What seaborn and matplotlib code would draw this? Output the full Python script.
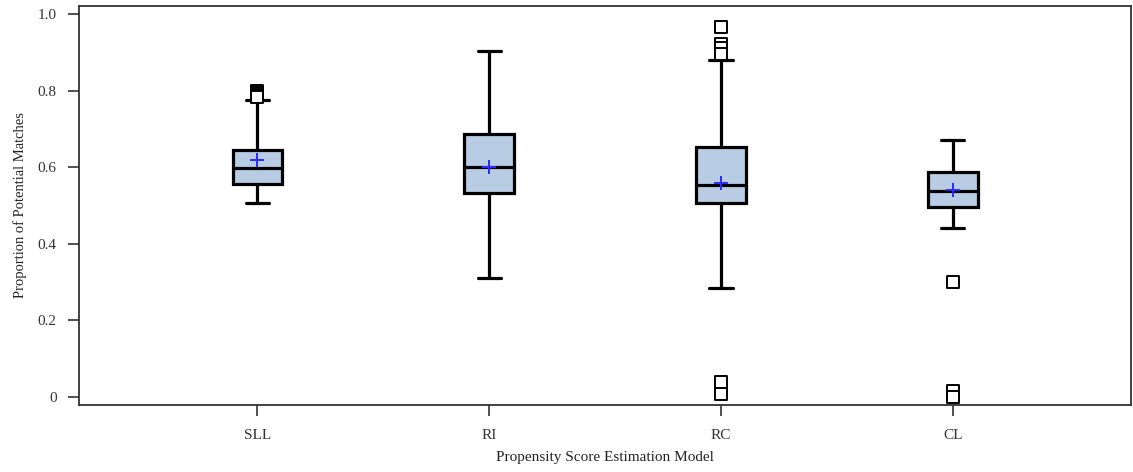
import matplotlib
matplotlib.use("Agg")
import matplotlib.pyplot as plt
import seaborn as sns
import pandas as pd

# Summary statistics for each propensity score estimation model
models = ["SLL", "RI", "RC", "CL"]
whisker_low = [0.506, 0.311, 0.285, 0.441]
q1 = [0.556, 0.533, 0.507, 0.496]
median = [0.598, 0.600, 0.553, 0.538]
q3 = [0.645, 0.687, 0.653, 0.587]
whisker_high = [0.775, 0.903, 0.880, 0.671]
mean = [0.619, 0.600, 0.559, 0.540]

# Outlying observations per model
outliers_sll = [0.799, 0.795, 0.790, 0.786, 0.783]
outliers_ri = []
outliers_rc = [0.966, 0.922, 0.911, 0.896, 0.039, 0.008]
outliers_cl = [0.300, 0.015, 0.000]

sns.set_theme(style="ticks")
plt.rcParams["font.family"] = ["Liberation Serif", "DejaVu Serif"]

fig, ax = plt.subplots(figsize=(11.33, 4.72), dpi=100)
fig.subplots_adjust(left=0.0697, right=0.9985, top=0.987, bottom=0.142)

stats = []
for i, name in enumerate(models):
    stats.append(dict(label=name, whislo=whisker_low[i], q1=q1[i], med=median[i],
                      q3=q3[i], whishi=whisker_high[i], mean=mean[i], fliers=[]))

ax.bxp(stats, positions=range(len(models)), widths=0.215, capwidths=0.1,
       showfliers=False, showmeans=False, patch_artist=True,
       boxprops=dict(facecolor="#b8cce4", edgecolor="black", linewidth=2.3),
       medianprops=dict(color="black", linewidth=2.3),
       whiskerprops=dict(color="black", linewidth=2.3),
       capprops=dict(color="black", linewidth=2.3))

means_df = pd.DataFrame({"x": range(len(models)), "mean": mean})
sns.scatterplot(data=means_df, x="x", y="mean", marker="+", s=110, color="#2a2aff",
                linewidth=1.4, ax=ax, zorder=5)

out_x, out_y = [], []
for i, vals in enumerate([outliers_sll, outliers_ri, outliers_rc, outliers_cl]):
    out_x += [i] * len(vals)
    out_y += vals
out_df = pd.DataFrame({"x": out_x, "value": out_y})
sns.scatterplot(data=out_df, x="x", y="value", marker="s", s=75, facecolor="white",
                edgecolor="black", linewidth=1.4, ax=ax, zorder=4)

ax.set_xlim(-0.77, 3.77)
ax.set_ylim(-0.021, 1.021)
ax.set_xticks(range(len(models)))
ax.set_xticklabels(models)
ax.set_yticks([0, 0.2, 0.4, 0.6, 0.8, 1.0])
ax.set_yticklabels(["0", "0.2", "0.4", "0.6", "0.8", "1.0"])
ax.set_xlabel("Propensity Score Estimation Model", fontsize=11, color="#222222", labelpad=7)
ax.set_ylabel("Proportion of Potential Matches", fontsize=10.5, color="#222222", labelpad=8)
ax.tick_params(axis="both", labelsize=11, colors="#333333", length=8, width=1.2)
ax.tick_params(axis="x", pad=9)
ax.tick_params(axis="y", pad=8)
for sp in ax.spines.values():
    sp.set_color("#333333")
    sp.set_linewidth(1.3)

fig.savefig("out.png", dpi=100)
